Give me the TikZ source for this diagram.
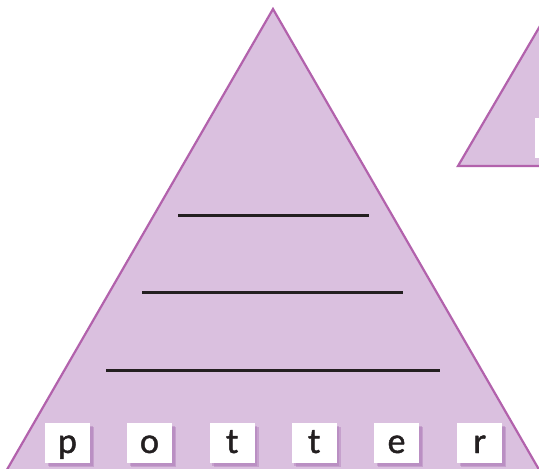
\documentclass[tikz,border=0pt]{standalone}
\usepackage{fontspec}
\setmainfont{Lato}
\newfontfamily\tilefont[FakeBold=1.3]{Lato}
\usepackage{xcolor}
\usetikzlibrary{positioning}
\definecolor{lilac}{RGB}{218,192,223}
\definecolor{plum}{RGB}{178,98,172}
\definecolor{ink}{RGB}{35,31,32}
\definecolor{boxshade}{RGB}{168,116,180}

\begin{document}
\begin{tikzpicture}[x=1pt, y=-1pt,
  pyramid/.style={fill=lilac, draw=plum, line width=2.2pt, line join=miter},
  rule/.style={draw=ink, line width=3pt},
  letterbox/.style={fill=white, minimum width=45pt, minimum height=40pt, inner sep=0pt},
  shade/.style={fill=boxshade, opacity=0.4, minimum width=45pt, minimum height=40pt, inner sep=0pt},
  letter/.style={anchor=base, inner sep=0pt, text=ink, font=\tilefont\fontsize{34}{34}\selectfont}]
  \useasboundingbox (0,0) rectangle (539,469);
  \clip (0,0) rectangle (539,469);
  % the two pyramids
  \draw[pyramid] (273,9) -- (545,480) -- (1,480) -- cycle;
  \draw[pyramid] (540,26) -- (622,166) -- (458,166) -- cycle;
  % lines to write on
  \draw[rule] (178,215) -- (369,215);
  \draw[rule] (142,292) -- (403,292);
  \draw[rule] (106,370) -- (440,370);
  % letter tiles
  \foreach \ch/\xc/\n in {p/67.5/1, o/149.5/2, t/232/3, t/314/4, e/396.5/5, r/479.5/6} {
    \node[shade] at (\xc+4,447) {};
    \node[shade] at (\xc+2.5,445.5) {};
    \node[letterbox] (tile\n) at (\xc,443) {};
    \node[letter] (ch\n) at ([yshift=-10pt]tile\n.center) {\ch};
  }
  \node[shade] at (561,142) {};
  \node[letterbox] (tile7) at (557.5,138) {};
\end{tikzpicture}
\end{document}
